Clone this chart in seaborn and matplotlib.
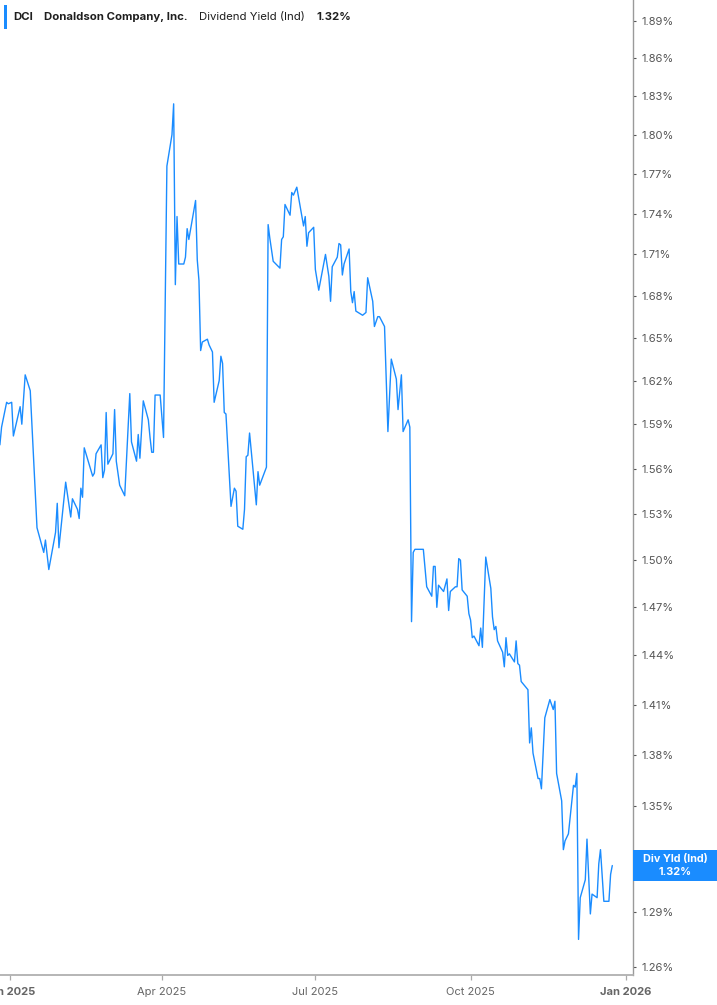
#!/usr/bin/env python3
"""DCI dividend yield chart (log scale, right-hand axis)."""

import matplotlib

matplotlib.use("Agg")
import matplotlib.pyplot as plt
import pandas as pd
import seaborn as sns
from matplotlib.patches import FancyBboxPatch, Rectangle
from matplotlib.ticker import FixedLocator, NullLocator

W, H = 717, 1005
LINE = "#1a8cff"

ticker = "DCI"
company = "Donaldson Company, Inc."
metric = "Dividend Yield (Ind)"
end_label = "Div Yld (Ind)"

# values, in percent
q1_dates = [
    "2024-12-26", "2024-12-27", "2024-12-30", "2024-12-31", "2025-01-02", "2025-01-03",
    "2025-01-07", "2025-01-08", "2025-01-10", "2025-01-13", "2025-01-17", "2025-01-21",
    "2025-01-22", "2025-01-24", "2025-01-28", "2025-01-29", "2025-01-30", "2025-02-03",
    "2025-02-06", "2025-02-07", "2025-02-10", "2025-02-11", "2025-02-12", "2025-02-13",
    "2025-02-14", "2025-02-19", "2025-02-20", "2025-02-21", "2025-02-24", "2025-02-25",
    "2025-02-26", "2025-02-27", "2025-02-28", "2025-03-03", "2025-03-04", "2025-03-05",
    "2025-03-07", "2025-03-10", "2025-03-13", "2025-03-14", "2025-03-17", "2025-03-18",
    "2025-03-19", "2025-03-21", "2025-03-24", "2025-03-25", "2025-03-26", "2025-03-27",
    "2025-03-28", "2025-03-31",
]
q1_yield = [
    1.576, 1.588, 1.605, 1.604, 1.605, 1.582,
    1.602, 1.590, 1.624, 1.613, 1.521, 1.505,
    1.513, 1.494, 1.518, 1.537, 1.508, 1.551,
    1.528, 1.540, 1.533, 1.527, 1.547, 1.541,
    1.574, 1.555, 1.557, 1.570, 1.576, 1.554,
    1.559, 1.598, 1.563, 1.570, 1.600, 1.565,
    1.549, 1.542, 1.611, 1.578, 1.565, 1.583,
    1.567, 1.606, 1.593, 1.581, 1.571, 1.571,
    1.610, 1.610,
]

q2_dates = [
    "2025-04-02", "2025-04-04", "2025-04-07", "2025-04-08", "2025-04-09", "2025-04-10",
    "2025-04-11", "2025-04-14", "2025-04-15", "2025-04-16", "2025-04-17", "2025-04-21",
    "2025-04-22", "2025-04-23", "2025-04-24", "2025-04-25", "2025-04-28", "2025-04-29",
    "2025-05-01", "2025-05-02", "2025-05-05", "2025-05-06", "2025-05-07", "2025-05-08",
    "2025-05-09", "2025-05-12", "2025-05-14", "2025-05-15", "2025-05-16", "2025-05-19",
    "2025-05-20", "2025-05-21", "2025-05-22", "2025-05-23", "2025-05-27", "2025-05-28",
    "2025-05-29", "2025-06-02", "2025-06-03", "2025-06-04", "2025-06-06", "2025-06-10",
    "2025-06-11", "2025-06-12", "2025-06-13", "2025-06-16", "2025-06-17", "2025-06-18",
    "2025-06-20", "2025-06-24", "2025-06-25", "2025-06-26", "2025-06-27", "2025-06-30",
]
q2_yield = [
    1.581, 1.776, 1.800, 1.824, 1.688, 1.738,
    1.703, 1.703, 1.708, 1.729, 1.721, 1.750,
    1.706, 1.691, 1.641, 1.647, 1.649, 1.645,
    1.640, 1.605, 1.620, 1.637, 1.632, 1.598,
    1.597, 1.535, 1.547, 1.545, 1.522, 1.520,
    1.533, 1.568, 1.569, 1.584, 1.536, 1.558,
    1.549, 1.561, 1.732, 1.722, 1.705, 1.700,
    1.721, 1.723, 1.747, 1.739, 1.756, 1.754,
    1.760, 1.731, 1.738, 1.716, 1.726, 1.730,
]

q3_dates = [
    "2025-07-01", "2025-07-03", "2025-07-07", "2025-07-09", "2025-07-10", "2025-07-11",
    "2025-07-14", "2025-07-15", "2025-07-16", "2025-07-17", "2025-07-18", "2025-07-21",
    "2025-07-22", "2025-07-23", "2025-07-24", "2025-07-25", "2025-07-29", "2025-07-31",
    "2025-08-01", "2025-08-04", "2025-08-05", "2025-08-07", "2025-08-08", "2025-08-11",
    "2025-08-13", "2025-08-15", "2025-08-18", "2025-08-19", "2025-08-21", "2025-08-22",
    "2025-08-25", "2025-08-26", "2025-08-27", "2025-08-28", "2025-08-29", "2025-09-03",
    "2025-09-05", "2025-09-08", "2025-09-09", "2025-09-10", "2025-09-11", "2025-09-12",
    "2025-09-15", "2025-09-17", "2025-09-18", "2025-09-19", "2025-09-22", "2025-09-23",
    "2025-09-24", "2025-09-25", "2025-09-26", "2025-09-29", "2025-09-30",
]
q3_yield = [
    1.699, 1.684, 1.710, 1.694, 1.676, 1.701,
    1.708, 1.718, 1.717, 1.695, 1.703, 1.714,
    1.683, 1.675, 1.683, 1.669, 1.666, 1.668,
    1.693, 1.676, 1.658, 1.665, 1.665, 1.658,
    1.585, 1.635, 1.621, 1.600, 1.624, 1.585,
    1.593, 1.588, 1.461, 1.505, 1.507, 1.507,
    1.483, 1.477, 1.496, 1.496, 1.470, 1.484,
    1.480, 1.488, 1.468, 1.480, 1.483, 1.483,
    1.501, 1.500, 1.481, 1.477, 1.466,
]

q4_dates = [
    "2025-10-01", "2025-10-02", "2025-10-03", "2025-10-06", "2025-10-07", "2025-10-08",
    "2025-10-10", "2025-10-13", "2025-10-14", "2025-10-15", "2025-10-16", "2025-10-17",
    "2025-10-20", "2025-10-21", "2025-10-22", "2025-10-23", "2025-10-24", "2025-10-27",
    "2025-10-28", "2025-10-29", "2025-10-30", "2025-10-31", "2025-11-04", "2025-11-05",
    "2025-11-06", "2025-11-07", "2025-11-10", "2025-11-11", "2025-11-12", "2025-11-14",
    "2025-11-17", "2025-11-19", "2025-11-20", "2025-11-21", "2025-11-24", "2025-11-25",
    "2025-11-26", "2025-11-28", "2025-12-01", "2025-12-02", "2025-12-03", "2025-12-04",
    "2025-12-05", "2025-12-08", "2025-12-09", "2025-12-11", "2025-12-12", "2025-12-15",
    "2025-12-16", "2025-12-17", "2025-12-19", "2025-12-22", "2025-12-23", "2025-12-24",
]
q4_yield = [
    1.462, 1.451, 1.452, 1.446, 1.457, 1.445,
    1.502, 1.482, 1.464, 1.456, 1.458, 1.449,
    1.442, 1.433, 1.451, 1.440, 1.441, 1.436,
    1.449, 1.435, 1.434, 1.424, 1.419, 1.387,
    1.396, 1.381, 1.366, 1.366, 1.360, 1.402,
    1.413, 1.407, 1.412, 1.369, 1.353, 1.325,
    1.330, 1.334, 1.362, 1.361, 1.369, 1.275,
    1.298, 1.308, 1.331, 1.289, 1.300, 1.298,
    1.317, 1.325, 1.296, 1.296, 1.311, 1.316,
]

y_ticks = [round(1.26 + 0.03 * i, 2) for i in range(22)]
x_ticks = ["2025-01-01", "2025-04-01", "2025-07-01", "2025-10-01", "2026-01-01"]
x_tick_labels = ["Jan 2025", "Apr 2025", "Jul 2025", "Oct 2025", "Jan 2026"]


def main() -> None:
    df = pd.DataFrame(
        {
            "date": pd.to_datetime(q1_dates + q2_dates + q3_dates + q4_dates),
            "yield": q1_yield + q2_yield + q3_yield + q4_yield,
        }
    )

    sns.set_theme(style="white")
    plt.rcParams["font.family"] = ["Inter", "DejaVu Sans"]

    fig = plt.figure(figsize=(W / 100, H / 100), dpi=100)
    ax = fig.add_axes([0, 30 / H, 632.7 / W, 975 / H])

    sns.lineplot(data=df, x="date", y="yield", ax=ax, color=LINE, linewidth=1.0)

    ax.set_yscale("log")
    ax.set_ylim(1.2557, 1.907)
    base = pd.Timestamp("2025-01-01")
    ax.set_xlim(base + pd.Timedelta(days=-5.93), base + pd.Timedelta(days=369.1))

    last_val = df["yield"].iloc[-1]
    last_txt = f"{last_val:.2f}%"

    # the tick label under the value tag is hidden by the tag in the reference
    ax.yaxis.set_major_locator(FixedLocator(y_ticks))
    ax.yaxis.set_minor_locator(NullLocator())
    ax.set_yticklabels(["" if f"{v:.2f}%" == last_txt else f"{v:.2f}%" for v in y_ticks])
    ax.yaxis.tick_right()
    ax.tick_params(axis="y", which="major", right=True, left=False, length=2.5,
                   width=0.8, color="#555555", labelsize=8, labelcolor="#555555", pad=4)

    ax.set_xticks(pd.to_datetime(x_ticks))
    ax.set_xticklabels(x_tick_labels)
    ax.tick_params(axis="x", bottom=True, length=3.5, width=0.9, color="#aaaaaa",
                   labelsize=8, labelcolor="#666666", pad=5)
    for lbl in ax.get_xticklabels():
        if lbl.get_text().startswith("Jan"):
            lbl.set_fontweight("bold")

    ax.set_xlabel("")
    ax.set_ylabel("")
    for side in ("left", "top"):
        ax.spines[side].set_visible(False)
    ax.spines["right"].set_color("#9a9a9a")
    ax.spines["right"].set_linewidth(1.0)
    ax.spines["bottom"].set_color("#b0b0b0")
    ax.spines["bottom"].set_linewidth(1.3)

    # value tag at the last point
    _, ypx = ax.transData.transform((ax.get_xlim()[0], last_val))
    x0 = ax.get_position().x1 * W + 0.5
    fig.add_artist(Rectangle((x0 / W, (ypx - 15.5) / H), (W - x0) / W, 31 / H,
                             transform=fig.transFigure, color=LINE, lw=0))
    cx = (x0 + W) / 2 / W
    fig.text(cx, (ypx + 6.5) / H, end_label, color="white", fontsize=7.8,
             fontweight="bold", ha="center", va="center")
    fig.text(cx, (ypx - 6.5) / H, last_txt, color="white", fontsize=7.8,
             fontweight="bold", ha="center", va="center")

    # legend header
    renderer = fig.canvas.get_renderer()
    yc = 1 - 17 / H
    x = 13
    pieces = [(ticker, "bold"), (company, "bold"), (metric, "normal"), (last_txt, "bold")]
    for text, weight in pieces:
        t = fig.text(x / W, yc, text, fontsize=8.2, fontweight=weight,
                     color="#1f1f1f", ha="left", va="center")
        x = t.get_window_extent(renderer).x1 + 11.5
    box_right = x - 11.5 + 13
    fig.add_artist(FancyBboxPatch((4 / W, 1 - 30 / H), (box_right - 4) / W, 26 / H,
                                  boxstyle="round,pad=0,rounding_size=0.004",
                                  transform=fig.transFigure, facecolor="white",
                                  edgecolor="#e6e6e6", lw=0.8, zorder=-1))
    fig.add_artist(Rectangle((4 / W, 1 - 29 / H), 3 / W, 24 / H,
                             transform=fig.transFigure, color=LINE, lw=0))

    fig.savefig("out.png", dpi=100, facecolor="white")


if __name__ == "__main__":
    main()
